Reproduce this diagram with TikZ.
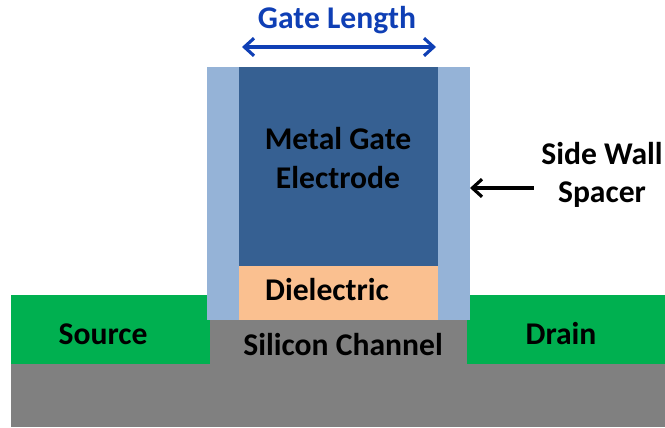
\documentclass[tikz,border=0pt]{standalone}
\usepackage{fontspec}
\usetikzlibrary{arrows.meta}
\setmainfont{Carlito}
\definecolor{substrat}{HTML}{808080}
\definecolor{vert}{HTML}{00B050}
\definecolor{espaceur}{HTML}{95B3D7}
\definecolor{grille}{HTML}{366092}
\definecolor{dielec}{HTML}{FAC090}
\definecolor{bleu}{HTML}{0F3FB5}
\begin{document}
\begin{tikzpicture}[x=0.02cm, y=-0.02cm]
\tikzset{etiquette/.style={font=\bfseries\fontsize{18}{22}\selectfont, text=black, align=center, inner sep=0pt}}
\tikzset{fleche/.style={<->, >={Straight Barb[length=5.5pt, width=10pt]}, line width=1.8pt}}
\useasboundingbox (0, 0) rectangle (665, 427);
\fill[substrat] (11, 320) rectangle (665, 427);
\fill[vert] (11, 295) rectangle (210, 364);
\fill[vert] (467, 295) rectangle (665, 364);
\fill[espaceur] (207, 67) rectangle (470, 320);
\fill[grille] (239, 67) rectangle (438, 266);
\fill[dielec] (239, 266) rectangle (438, 320);
\node[etiquette, text=bleu] (GL) at (337, 20) {Gate Length};
\node[etiquette] (MG) at (338, 158) {Metal Gate\\Electrode};
\node[etiquette] (DI) at (327, 290) {Dielectric};
\node[etiquette] (SC) at (343, 345) {Silicon Channel};
\node[etiquette] (SO) at (103, 334) {Source};
\node[etiquette] (DR) at (561, 334) {Drain};
\node[etiquette] (SW) at (602, 175) {Side Wall\\Spacer};
\coordinate (A1) at (242, 47);
\coordinate (A2) at (436, 47);
\coordinate (A3) at (534, 188);
\coordinate (A4) at (470, 188);
\draw[fleche, bleu] (A1) -- (A2);
\draw[fleche, <-] (A4) -- (A3);
\end{tikzpicture}
\end{document}
